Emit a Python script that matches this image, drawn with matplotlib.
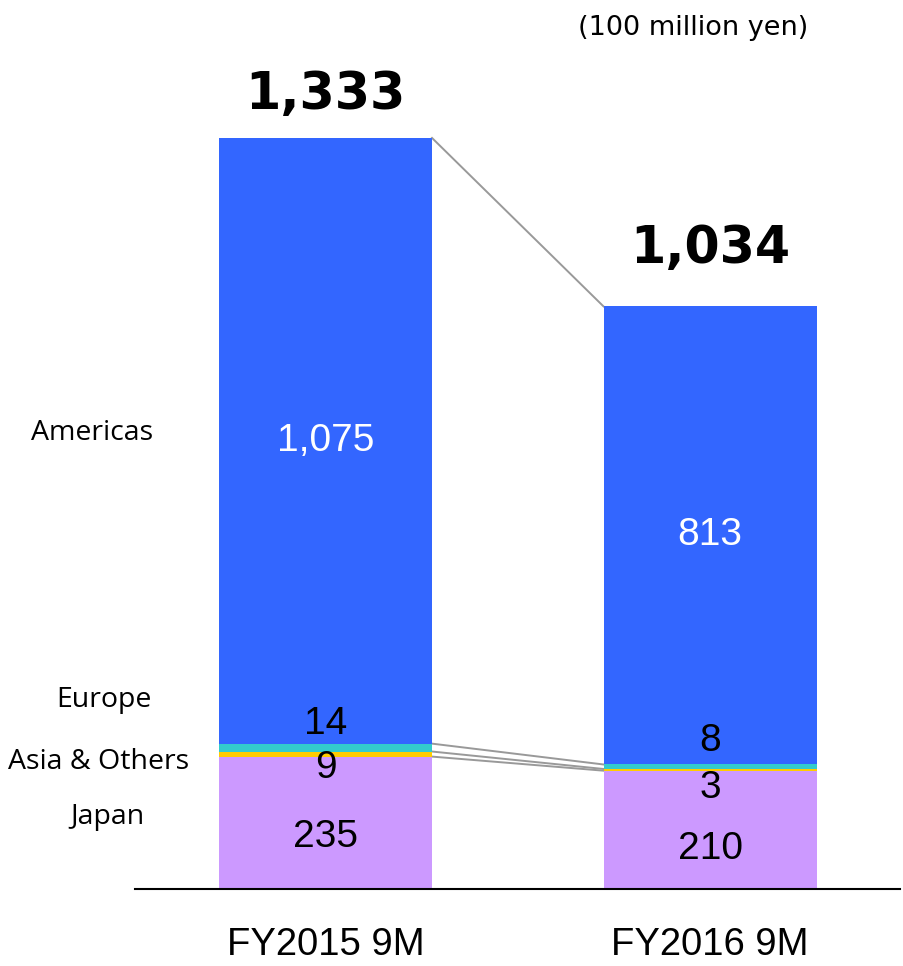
import matplotlib
matplotlib.use("Agg")
import matplotlib.pyplot as plt
import numpy as np

# ─── Data ─────────────────────────────────────────────────────────────────────
periods = ["FY2015 9M", "FY2016 9M"]
regions = ["Japan", "Asia & Others", "Europe", "Americas"]
japan = [235, 210]
asia = [9, 3]
europe = [14, 8]
americas = [1075, 813]
totals = [1333, 1034]

COLORS = ["#CC99FF", "#FFCC00", "#33CCCC", "#3366FF"]
NUM_FONT = "Liberation Sans"
CAT_FONT = "Open Sans"

fig = plt.figure(figsize=(9.04, 9.66), dpi=100)
ax = fig.add_axes([135 / 904, 77 / 966, 765 / 904, 788.8 / 966])
ax.set_xlim(-0.4954, 1.494)
ax.set_ylim(0, 1400)

x = np.arange(len(periods))
w = 0.554
series = [japan, asia, europe, americas]
bottom = np.zeros(len(periods))
cums = []
for vals, c in zip(series, COLORS):
    vals = np.array(vals, dtype=float)
    ax.bar(x, vals, w, bottom=bottom, color=c, zorder=2)
    bottom = bottom + vals
    cums.append(bottom.copy())

# connector lines between bars (segment boundaries)
for lvl in cums:
    ax.plot([x[0] + w / 2, x[1] - w / 2], [lvl[0], lvl[1]],
            color="#999999", lw=1.4, zorder=1)

# segment value labels
for i in range(len(periods)):
    jp, as_, eu, am = japan[i], asia[i], europe[i], americas[i]
    ax.text(x[i], am / 2 + cums[2][i], f"{am:,}", ha="center", va="center",
            color="white", fontsize=28, family=NUM_FONT)
    ax.text(x[i], cums[2][i] + (34 if i == 0 else 41), f"{eu}", ha="center",
            va="center", fontsize=28, family=NUM_FONT)
    ax.text(x[i], cums[0][i] - (21 if i == 0 else 31), f"{as_}", ha="center",
            va="center", fontsize=28, family=NUM_FONT)
    ax.text(x[i], 92 if i == 0 else 71, f"{jp}", ha="center", va="center",
            fontsize=28, family=NUM_FONT)
    ax.text(x[i], totals[i] + 76 if i == 0 else totals[i] + 102,
            f"{totals[i]:,}", ha="center", va="center", fontsize=36.5,
            fontweight="bold", family="DejaVu Sans")
    ax.text(x[i], -99, periods[i], ha="center", va="center", fontsize=27.5,
            family=NUM_FONT, clip_on=False)

for s in ["top", "right", "left"]:
    ax.spines[s].set_visible(False)
ax.spines["bottom"].set_linewidth(1.5)
ax.set_xticks([])
ax.set_yticks([])

# region labels on the left
cat_pos = {"Americas": (0.1018, 0.5519), "Europe": (0.115, 0.2755),
           "Asia & Others": (0.1095, 0.2113), "Japan": (0.1184, 0.1543)}
for r in regions:
    fx, fy = cat_pos[r]
    fig.text(fx, fy, r, ha="center", va="center", fontsize=20.5, family=CAT_FONT)

fig.text(0.7666, 0.971, "(100 million yen)", ha="center", va="center",
         fontsize=19.5, family="DejaVu Sans")

plt.savefig("out.png", dpi=100)
plt.close()
